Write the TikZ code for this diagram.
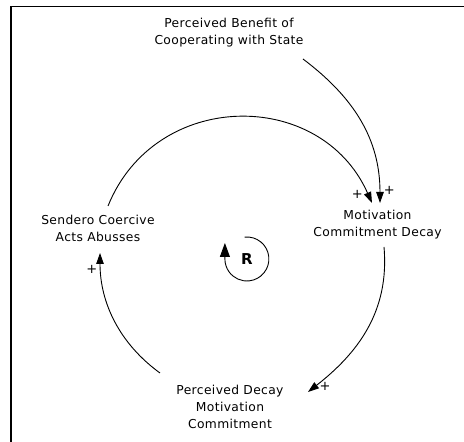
\documentclass[tikz,border=0pt]{standalone}
\usepackage{fontspec}
\usetikzlibrary{arrows.meta,calc}
\newfontfamily\labfont{DejaVu Sans}[LetterSpace=3]
\newfontfamily\plainfont{DejaVu Sans}

\begin{document}
\begin{tikzpicture}[x=1pt,y=1pt,
  var/.style={align=center,inner sep=0pt,
    font=\labfont\fontsize{12.3}{17}\selectfont},
  sign/.style={inner sep=0pt,font=\plainfont\fontsize{13}{13}\selectfont},
  link/.style={line width=0.9pt,-{Triangle[length=11pt,width=7.5pt]}},
  frame/.style={line width=1.6pt}]

\useasboundingbox (0,0) rectangle (464,442);

% page frame (left and top edges)
\draw[frame] (10.7,0) -- (10.7,435.3) -- (464,435.3);

% variables
\node[var] (benefit) at (229,409)   {Perceived Benefit of\\Cooperating with State};
\node[var] (motiv)   at (377.5,217.5) {Motivation\\Commitment Decay};
\node[var] (sendero) at (98,213.5)  {Sendero Coercive\\Acts Abusses};
\node[var] (decay)   at (230,35.5)  {Perceived Decay\\Motivation\\Commitment};

% connector end points around the variables
\coordinate (benefit-out) at ($(benefit)+(74,-26)$);
\coordinate (motiv-in1)   at ($(motiv)+(2.5,21.5)$);
\coordinate (motiv-in2)   at ($(motiv)+(-5.5,21.5)$);
\coordinate (motiv-out)   at ($(motiv)+(6.5,-22.5)$);
\coordinate (decay-in)    at ($(decay)+(78,14.5)$);
\coordinate (decay-out)   at ($(decay)+(-70,33.5)$);
\coordinate (sendero-in)  at ($(sendero)+(2,-24.5)$);
\coordinate (sendero-out) at ($(sendero)+(10,22.5)$);

% causal links
\draw[link] (benefit-out) to[out=-37,in=90] (motiv-in1);
\draw[link] (sendero-out) to[out=68,in=114,looseness=1.22] (motiv-in2);
\draw[link] (motiv-out) to[out=-85,in=38,looseness=1.0] (decay-in);
\draw[link] (decay-out) to[out=144,in=270,looseness=0.95] (sendero-in);

% polarities
\node[sign] (p1) at (389.3,252)  {+};
\node[sign] (p2) at (357.3,248)  {+};
\node[sign] (p3) at (325,55.3)   {+};
\node[sign] (p4) at (91.7,172.7) {+};

% reinforcing loop marker
\node[font=\plainfont\bfseries\fontsize{15}{15}\selectfont,inner sep=0pt] (loopR) at (247,183) {R};
\coordinate (loop-start) at ($(loopR)+(-2.4,21.9)$);
\draw[line width=0.9pt,-{Triangle[length=14pt,width=10pt]}]
  (loop-start) arc[start angle=96,end angle=-180,radius=22] -- ++(0,16);
\end{tikzpicture}
\end{document}
